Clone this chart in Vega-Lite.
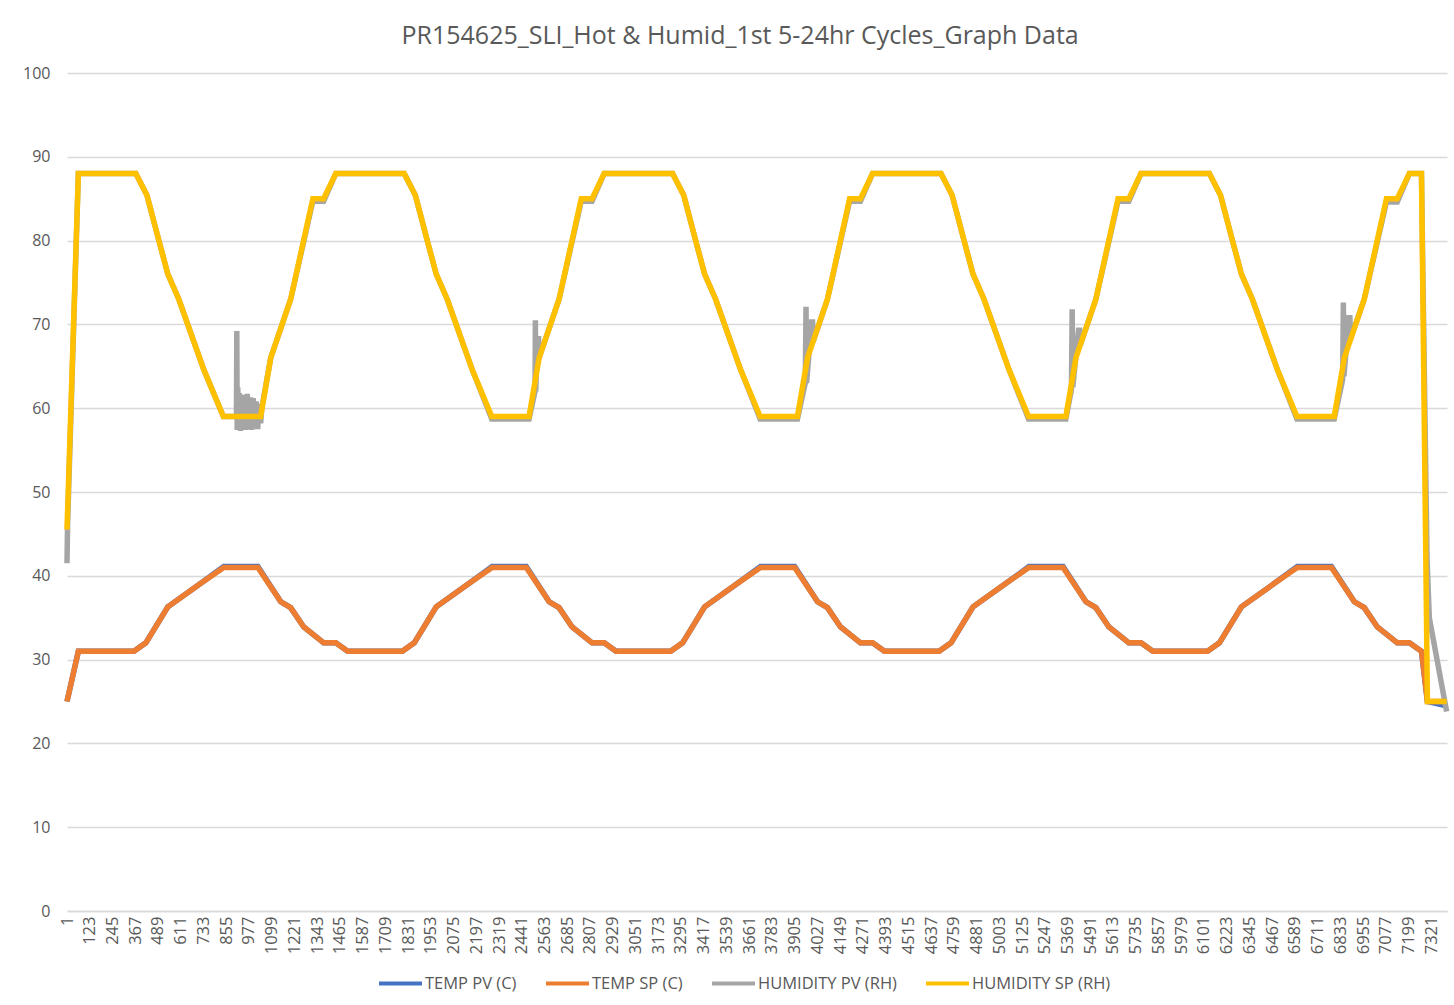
{
  "$schema": "https://vega.github.io/schema/vega-lite/v6.json",
  "autosize": "none",
  "width": 1380,
  "height": 838,
  "padding": {"left": 67, "top": 73, "right": 7, "bottom": 94},
  "background": "white",
  "title": {"text": "PR154625_SLI_Hot & Humid_1st 5-24hr Cycles_Graph Data", "anchor": "middle", "frame": "bounds", "font": "Open Sans", "fontSize": 25, "fontWeight": "normal", "color": "#595959", "offset": 16},
  "config": {
    "view": {"stroke": null},
    "axis": {"labelFont": "Open Sans", "labelColor": "#595959", "titleFont": "Open Sans"},
    "legend": {"labelFont": "Open Sans"}
  },
  "datasets": {
    "tsp": [
      {"i":1,"v":25},{"i":62,"v":31},
      {"i":360,"v":31},{"i":424,"v":32},{"i":542,"v":36.3},{"i":719,"v":39.1},{"i":842,"v":41},{"i":1025,"v":41},{"i":1148,"v":36.9},{"i":1201,"v":36.2},{"i":1271,"v":33.9},{"i":1378,"v":32},{"i":1443,"v":32},{"i":1507,"v":31},
      {"i":1800,"v":31},{"i":1864,"v":32},{"i":1982,"v":36.3},{"i":2159,"v":39.1},{"i":2282,"v":41},{"i":2465,"v":41},{"i":2588,"v":36.9},{"i":2641,"v":36.2},{"i":2711,"v":33.9},{"i":2818,"v":32},{"i":2883,"v":32},{"i":2947,"v":31},
      {"i":3240,"v":31},{"i":3304,"v":32},{"i":3422,"v":36.3},{"i":3599,"v":39.1},{"i":3722,"v":41},{"i":3905,"v":41},{"i":4028,"v":36.9},{"i":4081,"v":36.2},{"i":4151,"v":33.9},{"i":4258,"v":32},{"i":4323,"v":32},{"i":4387,"v":31},
      {"i":4680,"v":31},{"i":4744,"v":32},{"i":4862,"v":36.3},{"i":5039,"v":39.1},{"i":5162,"v":41},{"i":5345,"v":41},{"i":5468,"v":36.9},{"i":5521,"v":36.2},{"i":5591,"v":33.9},{"i":5698,"v":32},{"i":5763,"v":32},{"i":5827,"v":31},
      {"i":6120,"v":31},{"i":6184,"v":32},{"i":6302,"v":36.3},{"i":6479,"v":39.1},{"i":6602,"v":41},{"i":6785,"v":41},{"i":6908,"v":36.9},{"i":6961,"v":36.2},{"i":7031,"v":33.9},{"i":7138,"v":32},{"i":7203,"v":32},{"i":7268,"v":31},{"i":7300,"v":25},{"i":7403,"v":25}
    ],
    "tpv": [
      {"i":1,"v":25},{"i":62,"v":31},
      {"i":360,"v":31},{"i":424,"v":32},{"i":542,"v":36.3},{"i":719,"v":39.1},{"i":842,"v":41.1},{"i":1025,"v":41.1},{"i":1148,"v":36.9},{"i":1201,"v":36.2},{"i":1271,"v":33.9},{"i":1378,"v":32},{"i":1443,"v":32},{"i":1507,"v":31},
      {"i":1800,"v":31},{"i":1864,"v":32},{"i":1982,"v":36.3},{"i":2159,"v":39.1},{"i":2282,"v":41.1},{"i":2465,"v":41.1},{"i":2588,"v":36.9},{"i":2641,"v":36.2},{"i":2711,"v":33.9},{"i":2818,"v":32},{"i":2883,"v":32},{"i":2947,"v":31},
      {"i":3240,"v":31},{"i":3304,"v":32},{"i":3422,"v":36.3},{"i":3599,"v":39.1},{"i":3722,"v":41.1},{"i":3905,"v":41.1},{"i":4028,"v":36.9},{"i":4081,"v":36.2},{"i":4151,"v":33.9},{"i":4258,"v":32},{"i":4323,"v":32},{"i":4387,"v":31},
      {"i":4680,"v":31},{"i":4744,"v":32},{"i":4862,"v":36.3},{"i":5039,"v":39.1},{"i":5162,"v":41.1},{"i":5345,"v":41.1},{"i":5468,"v":36.9},{"i":5521,"v":36.2},{"i":5591,"v":33.9},{"i":5698,"v":32},{"i":5763,"v":32},{"i":5827,"v":31},
      {"i":6120,"v":31},{"i":6184,"v":32},{"i":6302,"v":36.3},{"i":6479,"v":39.1},{"i":6602,"v":41.1},{"i":6785,"v":41.1},{"i":6908,"v":36.9},{"i":6961,"v":36.2},{"i":7031,"v":33.9},{"i":7138,"v":32},{"i":7203,"v":32},{"i":7268,"v":31},{"i":7300,"v":25},{"i":7403,"v":24.5}
    ],
    "hpv": [
      {"i":1,"v":41.5},{"i":4,"v":46},{"i":62,"v":88},
      {"i":370,"v":88},{"i":430,"v":85.4},{"i":494,"v":80},{"i":542,"v":76},{"i":601,"v":73},{"i":735,"v":64.6},{"i":840,"v":59},
      {"i":910,"v":59},{"i":912,"v":69.2},{"i":914,"v":57.4},{"i":917,"v":62.5},{"i":922,"v":57.6},{"i":926,"v":61.8},{"i":932,"v":57.3},{"i":938,"v":61.6},{"i":945,"v":57.5},{"i":952,"v":61.4},{"i":960,"v":57.4},{"i":968,"v":61.7},{"i":976,"v":57.5},{"i":984,"v":61.3},{"i":992,"v":57.4},{"i":1000,"v":61.2},{"i":1008,"v":57.6},{"i":1016,"v":60.8},{"i":1024,"v":57.5},{"i":1032,"v":60.5},{"i":1040,"v":58.2},{"i":1046,"v":60},
      {"i":1094,"v":66},{"i":1201,"v":73},{"i":1320,"v":84.7},{"i":1378,"v":84.7},{"i":1443,"v":88},
      {"i":1810,"v":88},{"i":1870,"v":85.4},{"i":1934,"v":80},{"i":1982,"v":76},{"i":2041,"v":73},{"i":2175,"v":64.6},{"i":2280,"v":58.7},{"i":2480,"v":58.7},{"i":2512,"v":62},{"i":2514,"v":70.5},{"i":2516,"v":62},{"i":2525,"v":68.3},{"i":2531,"v":68.3},{"i":2534,"v":66},{"i":2641,"v":73},{"i":2760,"v":84.7},{"i":2818,"v":84.7},{"i":2883,"v":88},
      {"i":3250,"v":88},{"i":3310,"v":85.4},{"i":3374,"v":80},{"i":3422,"v":76},{"i":3481,"v":73},{"i":3615,"v":64.6},{"i":3720,"v":58.7},{"i":3920,"v":58.7},{"i":3962,"v":63},{"i":3966,"v":72.1},{"i":3969,"v":63},{"i":3996,"v":70.3},{"i":4001,"v":70.3},{"i":4004,"v":67.9},{"i":4081,"v":73},{"i":4200,"v":84.7},{"i":4258,"v":84.7},{"i":4323,"v":88},
      {"i":4690,"v":88},{"i":4750,"v":85.4},{"i":4814,"v":80},{"i":4862,"v":76},{"i":4921,"v":73},{"i":5055,"v":64.6},{"i":5160,"v":58.7},{"i":5360,"v":58.7},{"i":5390,"v":62.2},{"i":5394,"v":71.8},{"i":5397,"v":62.5},{"i":5428,"v":69.3},{"i":5434,"v":69.3},{"i":5437,"v":67.5},{"i":5521,"v":73},{"i":5640,"v":84.7},{"i":5698,"v":84.7},{"i":5763,"v":88},
      {"i":6130,"v":88},{"i":6190,"v":85.4},{"i":6254,"v":80},{"i":6302,"v":76},{"i":6361,"v":73},{"i":6495,"v":64.6},{"i":6600,"v":58.7},{"i":6800,"v":58.7},{"i":6845,"v":63.4},{"i":6849,"v":72.6},{"i":6852,"v":63.8},{"i":6878,"v":70.8},{"i":6884,"v":70.8},{"i":6888,"v":68.3},{"i":6961,"v":73},{"i":7080,"v":84.6},{"i":7138,"v":84.6},{"i":7203,"v":88},{"i":7268,"v":88},{"i":7298,"v":42},{"i":7310,"v":35},{"i":7403,"v":23.8}
    ],
    "hsp": [
      {"i":1,"v":45.5},{"i":62,"v":88},
      {"i":370,"v":88},{"i":430,"v":85.4},{"i":494,"v":80},{"i":542,"v":76},{"i":601,"v":73},{"i":735,"v":64.6},{"i":840,"v":59},{"i":1040,"v":59},{"i":1094,"v":66},{"i":1201,"v":73},{"i":1320,"v":85},{"i":1378,"v":85},{"i":1443,"v":88},
      {"i":1810,"v":88},{"i":1870,"v":85.4},{"i":1934,"v":80},{"i":1982,"v":76},{"i":2041,"v":73},{"i":2175,"v":64.6},{"i":2280,"v":59},{"i":2480,"v":59},{"i":2534,"v":66},{"i":2641,"v":73},{"i":2760,"v":85},{"i":2818,"v":85},{"i":2883,"v":88},
      {"i":3250,"v":88},{"i":3310,"v":85.4},{"i":3374,"v":80},{"i":3422,"v":76},{"i":3481,"v":73},{"i":3615,"v":64.6},{"i":3720,"v":59},{"i":3920,"v":59},{"i":3974,"v":66},{"i":4081,"v":73},{"i":4200,"v":85},{"i":4258,"v":85},{"i":4323,"v":88},
      {"i":4690,"v":88},{"i":4750,"v":85.4},{"i":4814,"v":80},{"i":4862,"v":76},{"i":4921,"v":73},{"i":5055,"v":64.6},{"i":5160,"v":59},{"i":5360,"v":59},{"i":5414,"v":66},{"i":5521,"v":73},{"i":5640,"v":85},{"i":5698,"v":85},{"i":5763,"v":88},
      {"i":6130,"v":88},{"i":6190,"v":85.4},{"i":6254,"v":80},{"i":6302,"v":76},{"i":6361,"v":73},{"i":6495,"v":64.6},{"i":6600,"v":59},{"i":6800,"v":59},{"i":6854,"v":66},{"i":6961,"v":73},{"i":7080,"v":85},{"i":7138,"v":85},{"i":7203,"v":88},{"i":7268,"v":88},{"i":7300,"v":25},{"i":7403,"v":25}
    ]
  },
  "encoding": {
    "x": {"field": "i", "type": "quantitative",
      "scale": {"domain": [1, 7405], "nice": false, "zero": false},
      "axis": {"title": null, "values": [1,123,245,367,489,611,733,855,977,1099,1221,1343,1465,1587,1709,1831,1953,2075,2197,2319,2441,2563,2685,2807,2929,3051,3173,3295,3417,3539,3661,3783,3905,4027,4149,4271,4393,4515,4637,4759,4881,5003,5125,5247,5369,5491,5613,5735,5857,5979,6101,6223,6345,6467,6589,6711,6833,6955,7077,7199,7321],
        "format": "d", "labelAngle": -90, "labelFontSize": 16.5, "labelPadding": 5, "ticks": false, "grid": false, "domainColor": "#D9D9D9", "domainWidth": 1.5, "labelOverlap": false, "labelFlush": false}},
    "y": {"field": "v", "type": "quantitative",
      "scale": {"domain": [0, 100], "nice": false},
      "axis": {"title": null, "values": [0,10,20,30,40,50,60,70,80,90,100], "labelFontSize": 16, "labelPadding": 17, "ticks": false, "domain": false, "grid": true, "gridColor": "#D9D9D9", "gridWidth": 1.5}},
    "color": {"datum": "TEMP PV (C)", "type": "nominal",
      "scale": {"domain": ["TEMP PV (C)", "TEMP SP (C)", "HUMIDITY PV (RH)", "HUMIDITY SP (RH)"], "range": ["#4472C4", "#ED7D31", "#A5A5A5", "#FFC000"]},
      "legend": {"title": null, "orient": "none", "direction": "horizontal", "legendX": 310, "legendY": 887, "symbolType": "stroke", "symbolSize": 1849, "symbolStrokeWidth": 4, "labelFontSize": 16.5, "labelColor": "#595959", "labelOffset": 1, "columnPadding": 21}}
  },
  "layer": [
    {"data": {"name": "tpv"}, "mark": {"type": "line", "strokeWidth": 5.5}, "encoding": {"color": {"datum": "TEMP PV (C)", "type": "nominal"}}},
    {"data": {"name": "tsp"}, "mark": {"type": "line", "strokeWidth": 5.5}, "encoding": {"color": {"datum": "TEMP SP (C)", "type": "nominal"}}},
    {"data": {"name": "hpv"}, "mark": {"type": "line", "strokeWidth": 5.5}, "encoding": {"color": {"datum": "HUMIDITY PV (RH)", "type": "nominal"}}},
    {"data": {"name": "hsp"}, "mark": {"type": "line", "strokeWidth": 5.5}, "encoding": {"color": {"datum": "HUMIDITY SP (RH)", "type": "nominal"}}}
  ]
}
